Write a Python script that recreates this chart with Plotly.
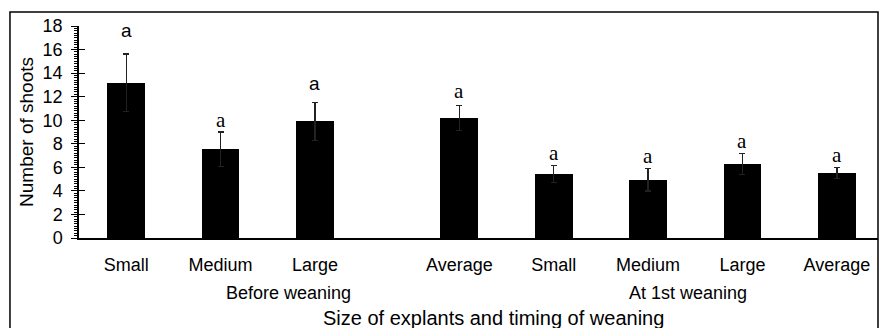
import plotly.graph_objects as go

# ---- data ----
sizes = ["Small", "Medium", "Large", "Average", "Small", "Medium", "Large", "Average"]
timing = ["Before weaning"] * 4 + ["At 1st weaning"] * 4
group_names = ["Before weaning", "At 1st weaning"]
shoots = [13.2, 7.55, 9.9, 10.2, 5.42, 4.95, 6.27, 5.52]
sem = [2.43, 1.45, 1.6, 1.07, 0.73, 0.95, 0.88, 0.46]
letters = ["a", "a", "a", "a", "a", "a", "a", "a"]
y_ticks = [0, 2, 4, 6, 8, 10, 12, 14, 16, 18]

# ---- layout helpers (styles / positions) ----
GAP = 0.53  # extra slot space before the first "Average" bar
xpos = [i + (GAP if i >= 3 else 0) for i in range(len(sizes))]
SANS = "Liberation Sans, Arial, sans-serif"
SERIF = "Liberation Serif, Times New Roman, serif"
letter_style = [
    (SANS, 19, 11), (SERIF, 21, -2), (SANS, 19, 7), (SERIF, 21, 0),
    (SERIF, 21, -1), (SERIF, 21, -1), (SERIF, 21, -1), (SERIF, 21, -1),
]
X_MIN, X_MAX = -0.5, 7.966
Y_LOW = -5.69  # extension of divider lines below the axis (data units)

fig = go.Figure()
fig.add_trace(go.Bar(
    x=xpos, y=shoots, width=0.40,
    marker=dict(color="black", line=dict(width=0)),
    error_y=dict(type="data", array=sem, color="#222", thickness=1.3, width=3),
    showlegend=False, hoverinfo="skip",
))

# divider lines (y-axis extension and group separator)
sep_x = (xpos[3] + xpos[4]) / 2
for xv in [X_MIN, sep_x]:
    fig.add_trace(go.Scatter(
        x=[xv, xv], y=[0, Y_LOW], mode="lines",
        line=dict(color="black", width=1.5), cliponaxis=False,
        showlegend=False, hoverinfo="skip",
    ))

# invisible trace for the overlay axis (inside ticks -> crossing ticks)
fig.add_trace(go.Scatter(x=[0], y=[0], yaxis="y2", mode="markers",
                         marker=dict(opacity=0), showlegend=False, hoverinfo="skip"))

annotations = []
for i, (xv, v, e, l) in enumerate(zip(xpos, shoots, sem, letters)):
    fam, fs, shift = letter_style[i]
    annotations.append(dict(
        x=xv, y=v + e, xref="x", yref="y", text=l, showarrow=False,
        yanchor="bottom", yshift=shift, font=dict(family=fam, size=fs, color="black"),
    ))

# group labels centred in each group's span between dividers
spans = [(X_MIN, sep_x), (sep_x, X_MAX)]
for g, (a0, a1) in zip(group_names, spans):
    annotations.append(dict(
        x=(a0 + a1) / 2 - 0.05, y=-0.259, xref="x", yref="paper", text=g,
        showarrow=False, yanchor="middle", font=dict(family=SANS, size=18, color="black"),
    ))

annotations.append(dict(
    x=0.519, y=-0.378, xref="paper", yref="paper",
    text="Size of explants and timing of weaning", showarrow=False,
    yanchor="middle", font=dict(family=SANS, size=20, color="black"),
))

fig.update_layout(
    width=879, height=328,
    margin=dict(l=79, r=1, t=26, b=90),
    paper_bgcolor="white", plot_bgcolor="white",
    bargap=0,
    annotations=annotations,
    shapes=[dict(type="rect", xref="paper", yref="paper",
                 x0=-0.0864, x1=1.0, y0=-0.49, y1=1.066,
                 line=dict(color="black", width=1.5), layer="above")],
    xaxis=dict(
        range=[X_MIN, X_MAX], showline=True, linecolor="black", linewidth=1.5,
        showgrid=False, zeroline=False, ticks="",
        tickvals=xpos, ticktext=sizes, ticklabelstandoff=10,
        tickfont=dict(family=SANS, size=18, color="black"),
    ),
    yaxis=dict(
        range=[0, 18], tickvals=y_ticks, showline=True, linecolor="black", linewidth=1.5,
        showgrid=False, zeroline=False, ticks="outside", ticklen=6, tickwidth=1.3,
        tickcolor="black", ticklabelstandoff=5,
        minor=dict(dtick=0.2, ticks="outside", ticklen=3, tickwidth=1, tickcolor="black"),
        tickfont=dict(family=SANS, size=18, color="black"),
        title=dict(text="Number of shoots", standoff=4,
                   font=dict(family=SANS, size=19, color="black")),
    ),
    yaxis2=dict(
        range=[0, 18], tickvals=y_ticks, overlaying="y", anchor="x", side="left",
        showline=False, showgrid=False, zeroline=False, showticklabels=False,
        ticks="inside", ticklen=6, tickwidth=1.3, tickcolor="black",
    ),
)

fig.write_html("out.html", config={"displayModeBar": False},
               post_script="document.body.style.margin='0';")
